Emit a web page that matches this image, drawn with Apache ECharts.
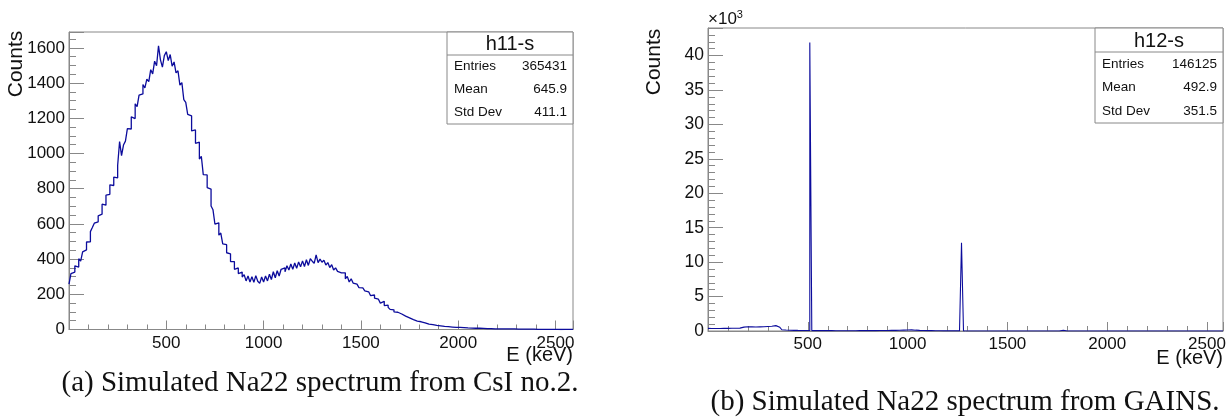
<!DOCTYPE html>
<html>
<head>
<meta charset="utf-8">
<script src="https://cdn.jsdelivr.net/npm/echarts@6/dist/echarts.min.js"></script>
<style>
  html, body { margin: 0; padding: 0; background: #fff; }
  #chart { width: 1229px; height: 417px; }
</style>
</head>
<body>
<div id="chart"></div>
<script>
// bin width in keV, counts start at E = 0
const binWidth = 10

// (a) CsI no.2 counts, 10 keV bins, 0 .. 2590 keV
const csiCounts = [
  258, 318, 326, 362, 355, 402, 388, 441, 452, 497,
  498, 556, 579, 604, 612, 646, 655, 712, 706, 763,
  768, 822, 818, 866, 861, 932, 1068, 988, 1048, 1070,
  1141, 1139, 1208, 1198, 1282, 1266, 1331, 1338, 1392, 1372,
  1422, 1408, 1476, 1452, 1524, 1498, 1612, 1532, 1490, 1556,
  1578, 1528, 1562, 1496, 1520, 1458, 1470, 1388, 1402, 1306,
  1290, 1222, 1214, 1128, 1134, 1058, 1064, 968, 984, 880,
  878, 806, 798, 702, 680, 598, 606, 536, 548, 486,
  482, 436, 430, 386, 386, 342, 350, 318, 326, 298,
  312, 276, 304, 270, 300, 268, 306, 274, 262, 298,
  270, 304, 276, 314, 284, 328, 294, 334, 304, 342,
  350, 328, 362, 338, 372, 342, 378, 348, 384, 356,
  390, 358, 396, 364, 402, 388, 376, 424, 380, 400,
  382, 394, 366, 380, 352, 368, 338, 350, 330, 322,
  316, 322, 288, 302, 270, 288, 264, 258, 250, 238,
  236, 226, 220, 214, 204, 192, 196, 178, 172, 168,
  150, 160, 136, 138, 126, 114, 112, 100, 98, 90,
  88, 80, 76, 70, 66, 62, 56, 56, 48, 48,
  44, 40, 38, 36, 30, 31, 28, 26, 23, 24,
  21, 22, 18, 19, 16, 17, 14, 15, 12, 13,
  12, 11, 11, 10, 9, 9, 8, 8, 7, 7,
  7, 6, 6, 6, 5, 5, 5, 5, 4, 4,
  4, 4, 4, 3, 3, 3, 3, 3, 3, 2,
  2, 2, 2, 2, 2, 2, 2, 1, 2, 1,
  1, 1, 1, 1, 1, 1, 1, 1, 1, 1,
  1, 1, 0, 1, 1, 0, 1, 0, 1
]

// (b) GAINS counts, 10 keV bins, 0 .. 2580 keV
const gainsCounts = [
  380, 370, 365, 370, 360, 365, 370, 375, 370, 380,
  385, 390, 395, 400, 410, 420, 450, 560, 600, 610,
  590, 600, 580, 570, 590, 600, 610, 620, 630, 650,
  660, 680, 700, 780, 820, 540, 300, 180, 140, 120,
  110, 100, 95, 90, 85, 80, 80, 75, 75, 70,
  70, 41900, 60, 55, 55, 50, 50, 50, 50, 50,
  50, 48, 48, 46, 46, 45, 45, 44, 44, 44,
  44, 45, 45, 46, 46, 48, 48, 50, 50, 52,
  52, 55, 55, 58, 60, 62, 65, 68, 70, 75,
  80, 85, 90, 95, 100, 110, 120, 130, 140, 150,
  160, 170, 150, 120, 100, 90, 80, 70, 65, 60,
  55, 50, 45, 40, 35, 30, 28, 25, 22, 20,
  18, 16, 15, 14, 12, 12, 10, 12800, 10, 8,
  8, 8, 7, 7, 7, 6, 6, 6, 6, 5,
  5, 5, 5, 5, 5, 5, 5, 4, 4, 4,
  4, 4, 4, 4, 4, 4, 3, 3, 3, 3,
  3, 3, 3, 3, 3, 3, 3, 3, 3, 3,
  3, 3, 3, 3, 3, 3, 3, 120, 3, 3,
  3, 2, 2, 2, 2, 2, 2, 2, 2, 2,
  2, 2, 2, 2, 2, 2, 2, 2, 2, 2,
  2, 2, 2, 2, 2, 2, 2, 1, 1, 1,
  1, 1, 1, 1, 1, 1, 1, 1, 1, 1,
  1, 1, 1, 1, 1, 1, 1, 1, 1, 1,
  1, 1, 1, 1, 1, 1, 1, 1, 1, 1,
  1, 1, 1, 1, 1, 1, 1, 1, 1, 1,
  1, 1, 1, 1, 1, 1, 1, 1
]

const csiStats = { title: 'h11-s', rows: [['Entries', '365431'], ['Mean', '645.9'], ['Std Dev', '411.1']] }
const gainsStats = { title: 'h12-s', rows: [['Entries', '146125'], ['Mean', '492.9'], ['Std Dev', '351.5']] }

const captionA = '(a) Simulated Na22 spectrum from CsI no.2.'
const captionB = '(b) Simulated Na22 spectrum from GAINS.'

const sans = 'Liberation Sans, Arial, sans-serif'
const serif = 'Liberation Serif, Times New Roman, serif'
const axisGray = '#888'
const lineBlue = '#0c0c9c'

// histogram as step line: points at bin low edges plus closing edge
function toSteps(counts) {
  const pts = counts.map((c, i) => [i * binWidth, c])
  pts.push([counts.length * binWidth, counts[counts.length - 1]])
  return pts
}

function statsBox(s, left, top, width, height, titleH) {
  const els = [
    { type: 'rect', shape: { x: left, y: top, width: width, height: height }, style: { fill: '#fff', stroke: axisGray, lineWidth: 1 }, z: 100 },
    { type: 'line', shape: { x1: left, y1: top + titleH, x2: left + width, y2: top + titleH }, style: { stroke: axisGray, lineWidth: 1 }, z: 101 },
    { type: 'text', x: left + width / 2, y: top + titleH / 2 + 1, style: { text: s.title, font: '20px ' + sans, fill: '#111', align: 'center', verticalAlign: 'middle' }, z: 101 }
  ]
  const rowH = (height - titleH) / s.rows.length
  s.rows.forEach((r, i) => {
    const cy = top + titleH + rowH * (i + 0.5)
    els.push({ type: 'text', x: left + 7, y: cy, style: { text: r[0], font: '13.5px ' + sans, fill: '#111', align: 'left', verticalAlign: 'middle' }, z: 101 })
    els.push({ type: 'text', x: left + width - 6, y: cy, style: { text: r[1], font: '13.5px ' + sans, fill: '#111', align: 'right', verticalAlign: 'middle' }, z: 101 })
  })
  return els
}

function xAxisCfg(gridIndex, max) {
  return {
    type: 'value', gridIndex: gridIndex, min: 0, max: max, interval: 500,
    axisLine: { show: true, lineStyle: { color: axisGray } },
    axisTick: { show: true, inside: true, length: 9, lineStyle: { color: axisGray } },
    minorTick: { show: true, splitNumber: 5, length: 5, lineStyle: { color: axisGray } },
    splitLine: { show: false },
    axisLabel: { showMinLabel: false, showMaxLabel: false, margin: 5, color: '#111', fontSize: 17, fontFamily: sans, formatter: v => String(v) }
  }
}

const chart = echarts.init(document.getElementById('chart'))
chart.setOption({
  animation: false,
  backgroundColor: '#fff',
  grid: [
    { left: 69, top: 32, width: 504, height: 297.5, show: true, borderColor: axisGray, borderWidth: 1 },
    { left: 708, top: 28, width: 515, height: 303, show: true, borderColor: axisGray, borderWidth: 1 }
  ],
  xAxis: [xAxisCfg(0, 2590), xAxisCfg(1, 2580)],
  yAxis: [
    {
      type: 'value', gridIndex: 0, min: 0, max: 1690, interval: 200,
      axisLine: { show: true, lineStyle: { color: axisGray } },
      axisTick: { show: true, inside: true, length: 15, lineStyle: { color: axisGray } },
      minorTick: { show: true, splitNumber: 4, length: 7, lineStyle: { color: axisGray } },
      splitLine: { show: false },
      axisLabel: { showMaxLabel: false, margin: 4, color: '#111', fontSize: 17, fontFamily: sans, formatter: v => String(v) }
    },
    {
      type: 'value', gridIndex: 1, min: 0, max: 44000, interval: 5000,
      axisLine: { show: true, lineStyle: { color: axisGray } },
      axisTick: { show: true, inside: true, length: 15, lineStyle: { color: axisGray } },
      minorTick: { show: true, splitNumber: 5, length: 7, lineStyle: { color: axisGray } },
      splitLine: { show: false },
      axisLabel: { showMaxLabel: false, margin: 4, color: '#111', fontSize: 17.5, fontFamily: sans, formatter: v => String(v / 1000) }
    }
  ],
  series: [
    {
      name: 'h11-s', type: 'line', xAxisIndex: 0, yAxisIndex: 0, step: 'end', showSymbol: false,
      lineStyle: { color: lineBlue, width: 1.3 }, data: toSteps(csiCounts)
    },
    {
      name: 'h12-s', type: 'line', xAxisIndex: 1, yAxisIndex: 1, step: 'end', showSymbol: false,
      lineStyle: { color: lineBlue, width: 1.1 }, data: toSteps(gainsCounts)
    }
  ],
  graphic: [
    { type: 'text', x: 16, y: 64, rotation: Math.PI / 2, style: { text: 'Counts', font: '21px ' + sans, fill: '#111', align: 'center', verticalAlign: 'middle' } },
    { type: 'text', x: 654, y: 62, rotation: Math.PI / 2, style: { text: 'Counts', font: '21px ' + sans, fill: '#111', align: 'center', verticalAlign: 'middle' } },
    { type: 'text', x: 573, y: 355, style: { text: 'E (keV)', font: '20px ' + sans, fill: '#111', align: 'right', verticalAlign: 'middle' } },
    { type: 'text', x: 1223, y: 358, style: { text: 'E (keV)', font: '20px ' + sans, fill: '#111', align: 'right', verticalAlign: 'middle' } },
    {
      type: 'text', x: 708, y: 19,
      style: {
        text: '×10{sup|3}', font: '17px ' + sans, fill: '#111', verticalAlign: 'middle',
        rich: { sup: { fontSize: 11, fontFamily: sans, verticalAlign: 'top', padding: [0, 0, 8, 0] } }
      }
    },
    { type: 'text', x: 320, y: 383, style: { text: captionA, font: '29px ' + serif, fill: '#111', align: 'center', verticalAlign: 'middle' } },
    { type: 'text', x: 965, y: 402, style: { text: captionB, font: '29px ' + serif, fill: '#111', align: 'center', verticalAlign: 'middle' } },
    ...statsBox(csiStats, 447, 32, 126, 92, 23),
    ...statsBox(gainsStats, 1095, 28, 128, 95, 24)
  ]
})
</script>
</body>
</html>
